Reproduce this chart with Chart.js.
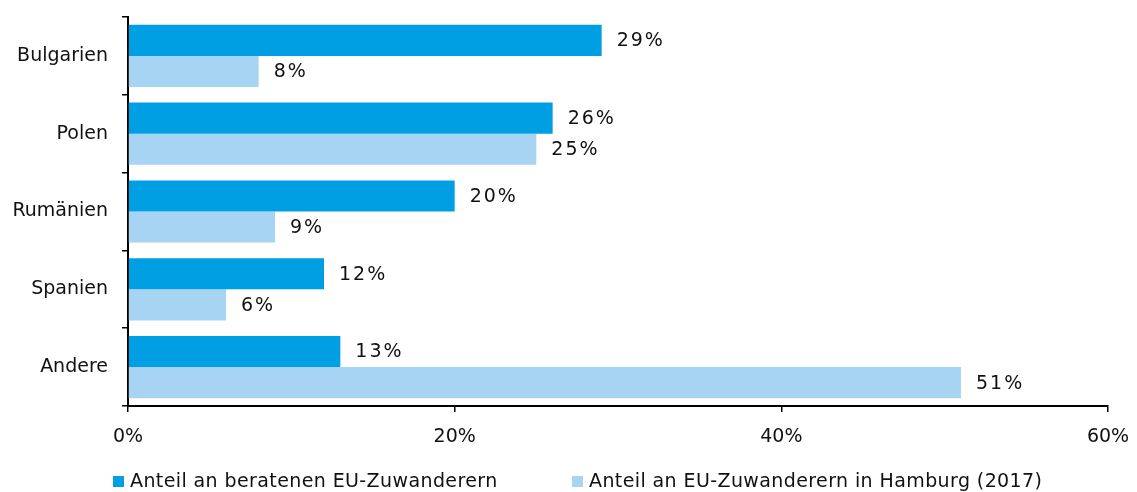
<!DOCTYPE html>
<html>
<head>
<meta charset="utf-8">
<script src="https://cdn.jsdelivr.net/npm/chart.js@4/dist/chart.umd.min.js"></script>
<style>
  body { margin: 0; background: #fff; }
  #wrap { position: relative; width: 1137px; height: 492px; }
  .lg { position: absolute; top: 469px; font: 19px "DejaVu Sans", Verdana, sans-serif; letter-spacing: 0.4px; color: #111; white-space: nowrap; }
  .lg i { display: inline-block; width: 11px; height: 11px; margin-right: 6px; vertical-align: 0px; }
</style>
</head>
<body>
<div id="wrap">
  <canvas id="chart" width="1137" height="492"></canvas>
  <div class="lg" style="left:113px"><i style="background:#009fe3"></i>Anteil an beratenen EU-Zuwanderern</div>
  <div class="lg" style="left:572px"><i style="background:#a8d4f3"></i>Anteil an EU-Zuwanderern in Hamburg (2017)</div>
</div>
<script>
// ---------------- Data ----------------
const countries = ['Bulgarien', 'Polen', 'Rumänien', 'Spanien', 'Andere'];
const beraten = [29, 26, 20, 12, 13];
const hamburg = [8, 25, 9, 6, 51];
const xTicks = [0, 20, 40, 60];

const font = { family: '"DejaVu Sans", Verdana, sans-serif', size: 19 };

// ---------------- Value labels ----------------
const valueLabels = {
    id: 'valueLabels',
    afterDatasetsDraw(chart) {
        const ctx = chart.ctx;
        ctx.save();
        ctx.font = font.size + 'px ' + font.family;
        ctx.letterSpacing = '2px';
        ctx.fillStyle = '#111';
        ctx.textBaseline = 'middle';
        ctx.textAlign = 'left';
        chart.data.datasets.forEach((ds, i) => {
            chart.getDatasetMeta(i).data.forEach((bar, j) => {
                ctx.fillText(ds.data[j] + '%', bar.x + 15, bar.y + 1);
            });
        });
        ctx.restore();
    }
};

new Chart(document.getElementById('chart'), {
    type: 'bar',
    data: {
        labels: countries,
        datasets: [
            { label: 'Anteil an beratenen EU-Zuwanderern', data: beraten, backgroundColor: '#009fe3' },
            { label: 'Anteil an EU-Zuwanderern in Hamburg (2017)', data: hamburg, backgroundColor: '#a8d4f3' }
        ]
    },
    options: {
        indexAxis: 'y',
        responsive: false,
        animation: false,
        devicePixelRatio: 1,
        categoryPercentage: 0.8,
        barPercentage: 1.0,
        layout: { padding: { top: 17, right: 29, left: 0, bottom: 0 } },
        plugins: { legend: { display: false }, tooltip: { enabled: false } },
        scales: {
            x: {
                min: 0, max: 60,
                afterBuildTicks: s => { s.ticks = xTicks.map(v => ({ value: v })); },
                afterFit: s => { s.height = 86; s.paddingLeft = 0; s.paddingRight = 0; },
                grid: { drawOnChartArea: false, drawTicks: true, tickLength: 6, color: '#000', lineWidth: 1.5 },
                border: { display: true, color: '#000', width: 2 },
                ticks: { padding: 14, color: '#111', font, callback: v => v + '%' }
            },
            y: {
                afterFit: s => { s.width = 128; s.paddingTop = 0; s.paddingBottom = 0; },
                grid: { drawOnChartArea: false, drawTicks: true, tickLength: 6, color: '#000', lineWidth: 1.5, offset: true },
                border: { display: true, color: '#000', width: 2 },
                ticks: { padding: 14, color: '#111', font }
            }
        }
    },
    plugins: [valueLabels]
});
</script>
</body>
</html>
